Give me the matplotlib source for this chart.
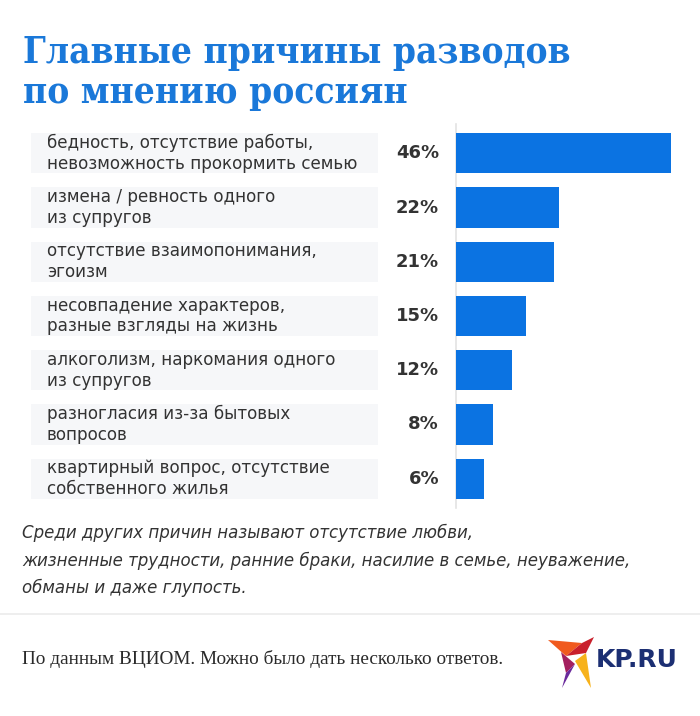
import matplotlib.pyplot as plt
import matplotlib.transforms as mtransforms
from matplotlib.patches import Rectangle, Polygon

reasons = ['бедность, отсутствие работы,\nневозможность прокормить семью',
           'измена / ревность одного\nиз супругов',
           'отсутствие взаимопонимания,\nэгоизм',
           'несовпадение характеров,\nразные взгляды на жизнь',
           'алкоголизм, наркомания одного\nиз супругов',
           'разногласия из-за бытовых\nвопросов',
           'квартирный вопрос, отсутствие\nсобственного жилья']
shares = [46, 22, 21, 15, 12, 8, 6]
pct_labels = ['46%', '22%', '21%', '15%', '12%', '8%', '6%']

title = 'Главные причины разводов\nпо мнению россиян'
note = ('Среди других причин называют отсутствие любви,\n'
        'жизненные трудности, ранние браки, насилие в семье, неуважение,\n'
        'обманы и даже глупость.')
source = 'По данным ВЦИОМ. Можно было дать несколько ответов.'

W, H = 700, 716
blue = '#0b73e2'
text_col = '#333333'

def fx(x):
    return x / W

def fy(y):
    return 1 - y / H

fig = plt.figure(figsize=(7, 7.16), dpi=100)
fig.patch.set_facecolor('white')

# bars axes: spine at x=456, top 124, bottom 508 (pixels)
ax = fig.add_axes([fx(456), fy(508), fx(690 - 456), (508 - 124) / H])
pos = list(range(len(shares)))
ax.barh(pos, shares, height=0.74, color=blue, zorder=3)
ax.set_xlim(0, (690 - 456) / 4.67)
ax.set_ylim(len(shares) - 1 + 0.54, -0.54)
for s in ['top', 'right', 'bottom']:
    ax.spines[s].set_visible(False)
ax.spines['left'].set_color('#e3e3e3')
ax.spines['left'].set_linewidth(1.2)
ax.set_xticks([])
ax.set_yticks([])

# label boxes and text, y from data coordinates
tr = mtransforms.blended_transform_factory(fig.transFigure, ax.transData)
for i, (lab, pl) in enumerate(zip(reasons, pct_labels)):
    fig.patches.append(Rectangle((fx(31), i - 0.37), fx(378 - 31), 0.74,
                                 transform=tr, facecolor='#f6f7f9',
                                 edgecolor='none', zorder=0))
    fig.text(fx(47), i, lab, transform=tr, ha='left', va='center',
             fontsize=12.1, color=text_col, linespacing=1.2,
             family='DejaVu Sans')
    fig.text(fx(439), i, pl, transform=tr, ha='right', va='center',
             fontsize=13, color=text_col, fontweight='bold',
             family='DejaVu Sans')

# title
title_lines = title.split('\n')
for k, line in enumerate(title_lines):
    fig.text(fx(23), fy(63 + k * 40), line, ha='left', va='baseline',
             fontsize=26.5, fontweight='bold', fontstretch='condensed',
             color='#1a78d9', family='DejaVu Serif')

# italic note
for k, line in enumerate(note.split('\n')):
    fig.text(fx(22), fy(538 + k * 27.5), line, ha='left', va='baseline',
             fontsize=12, style='italic', color=text_col,
             family='DejaVu Sans')

# separator
fig.add_artist(plt.Line2D([0, 1], [fy(614), fy(614)], color='#ebebeb',
                          linewidth=1.2, transform=fig.transFigure))

# source
fig.text(fx(22), fy(664), source, ha='left', va='baseline', fontsize=13.9,
         color='#2a2a2a', family='Liberation Serif')

# logo
bird = [
    ([(548, 640), (582, 643), (566, 656)], '#f05a1e'),
    ([(566, 656), (582, 643), (594, 637), (586, 653)], '#c9202c'),
    ([(561, 652), (575, 664), (566, 673)], '#a4205f'),
    ([(566, 673), (575, 664), (562, 688)], '#6a2a9c'),
    ([(575, 661), (586, 653), (591, 688)], '#f7b21b'),
]
for pts, c in bird:
    fig.patches.append(Polygon([(fx(x), fy(y)) for x, y in pts], closed=True,
                               transform=fig.transFigure, facecolor=c,
                               edgecolor='none'))
fig.text(fx(596), fy(667), 'KP.RU', ha='left', va='baseline', fontsize=18,
         fontweight='heavy', color='#1c2f73', family='DejaVu Sans')

fig.savefig('out.png', dpi=100, facecolor='white')
